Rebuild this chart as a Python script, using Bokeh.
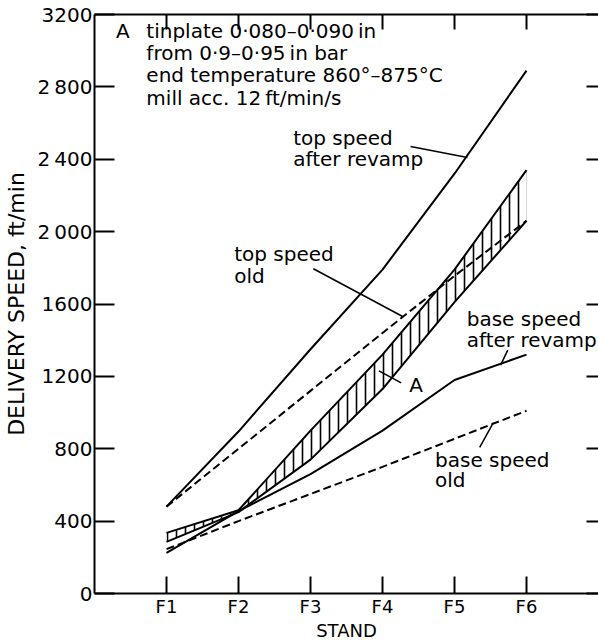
from bokeh.plotting import figure
from bokeh.models import FixedTicker, LinearAxis, Label, Range1d
from bokeh.embed import file_html
from bokeh.resources import INLINE

# ---- data ----
stands = ["F1", "F2", "F3", "F4", "F5", "F6"]
stand_pos = [1, 2, 3, 4, 5, 6]
top_speed_after_revamp = [480, 895, 1350, 1790, 2320, 2890]
top_speed_old = [480, 800, 1120, 1440, 1755, 2060]
band_a_upper = [335, 460, 900, 1320, 1790, 2340]
band_a_lower = [285, 450, 740, 1130, 1610, 2060]
base_speed_after_revamp = [225, 455, 660, 900, 1180, 1320]
base_speed_old = [245, 400, 550, 700, 855, 1010]
y_ticks = [0, 400, 800, 1200, 1600, 2000, 2400, 2800, 3200]
y_tick_labels = ["0", "400", "800", "1200", "1600", "2\u2009000", "2\u2009400", "2\u2009800", "3200"]

info_lines = ["tinplate 0·080–0·090\u2009in", "from 0·9–0·95\u2009in bar",
              "end temperature 860°–875°C", "mill acc. 12\u2009ft/min/s"]

FONT = "DejaVu Sans"
TXT = "20px"

p = figure(width=598, height=643, x_range=Range1d(0, 7), y_range=Range1d(0, 3200),
           output_backend="svg", toolbar_location=None,
           min_border_left=93, min_border_right=0, min_border_top=14, min_border_bottom=46)
p.outline_line_color = None
p.grid.visible = False
p.background_fill_color = "white"
p.border_fill_color = "white"

# bottom axis
xa = p.xaxis[0]
xa.ticker = FixedTicker(ticks=stand_pos)
xa.major_label_overrides = {s: n for s, n in zip(stand_pos, stands)}
xa.major_tick_in = 17
xa.major_tick_out = 0
xa.minor_tick_line_color = None
xa.axis_line_width = 2
xa.major_tick_line_width = 2
xa.axis_line_color = "black"
xa.major_tick_line_color = "black"
xa.major_label_text_font = FONT
xa.major_label_text_font_size = "18px"
xa.major_label_text_color = "black"
xa.major_label_standoff = 2
xa.axis_label = "STAND"
xa.axis_label_text_font = FONT
xa.axis_label_text_font_size = "18px"
xa.axis_label_text_font_style = "normal"
xa.axis_label_text_color = "black"
xa.axis_label_standoff = 0

# left axis
ya = p.yaxis[0]
ya.ticker = FixedTicker(ticks=y_ticks)
ya.major_label_overrides = {t: s for t, s in zip(y_ticks, y_tick_labels)}
ya.major_tick_in = 20
ya.major_tick_out = 0
ya.minor_tick_line_color = None
ya.axis_line_width = 2
ya.major_tick_line_width = 2
ya.axis_line_color = "black"
ya.major_tick_line_color = "black"
ya.major_label_text_font = FONT
ya.major_label_text_font_size = "20px"
ya.major_label_text_color = "black"
ya.major_label_standoff = 2
ya.axis_label = "DELIVERY SPEED, ft/min"
ya.axis_label_text_font = FONT
ya.axis_label_text_font_size = "22px"
ya.axis_label_text_font_style = "normal"
ya.axis_label_text_color = "black"
ya.axis_label_standoff = 6

# top axis (ticks only)
top = LinearAxis(ticker=FixedTicker(ticks=stand_pos), major_tick_in=15, major_tick_out=0,
                 minor_tick_line_color=None, axis_line_width=2, major_tick_line_width=2,
                 major_label_text_font_size="0px", major_label_standoff=0,
                 major_label_overrides={s: "" for s in stand_pos})
p.add_layout(top, "above")

# right axis (ticks only, line beyond the picture)
right = LinearAxis(ticker=FixedTicker(ticks=y_ticks), major_tick_in=12, major_tick_out=0,
                   minor_tick_line_color=None, axis_line_color=None, major_tick_line_width=2,
                   major_label_text_font_size="0px", major_label_standoff=0,
                   major_label_overrides={t: "" for t in y_ticks})
p.add_layout(right, "right")

# hatched band A
p.varea(x=stand_pos, y1=band_a_lower, y2=band_a_upper, fill_color=None,
        hatch_pattern="|", hatch_scale=9, hatch_weight=1.6, hatch_color="black")
p.line(stand_pos, band_a_upper, line_color="black", line_width=2)
p.line(stand_pos, band_a_lower, line_color="black", line_width=2)

p.line(stand_pos, top_speed_after_revamp, line_color="black", line_width=2)
p.line(stand_pos, top_speed_old, line_color="black", line_width=2, line_dash="8 4")
p.line(stand_pos, base_speed_after_revamp, line_color="black", line_width=2)
p.line(stand_pos, base_speed_old, line_color="black", line_width=2, line_dash="8 4")

# ---- annotations (positions in data units) ----
def label(x, y, text, size=TXT):
    p.add_layout(Label(x=x, y=y, text=text, text_font=FONT, text_font_size=size,
                       text_color="black", text_baseline="middle", text_align="left"))

label(0.30, 3107, "A")
for i, t in enumerate(info_lines):
    label(0.72, 3107 - i * 122, t)

label(2.76, 2519, "top speed")
label(2.76, 2399, "after revamp")
label(1.94, 1877, "top speed")
label(1.94, 1756, "old")
label(4.37, 1153, "A")
label(5.17, 1515, "base speed")
label(5.17, 1400, "after revamp")
label(4.73, 736, "base speed")
label(4.73, 626, "old")

callouts_x0 = [4.39, 3.04, 3.95, 5.64, 5.35]
callouts_y0 = [2470, 1795, 1230, 1262, 807]
callouts_x1 = [5.18, 4.28, 4.26, 5.74, 5.54]
callouts_y1 = [2410, 1531, 1164, 1345, 944]
p.segment(callouts_x0, callouts_y0, callouts_x1, callouts_y1, line_color="black", line_width=1.5)

open("out.html", "w").write(file_html(p, INLINE))
